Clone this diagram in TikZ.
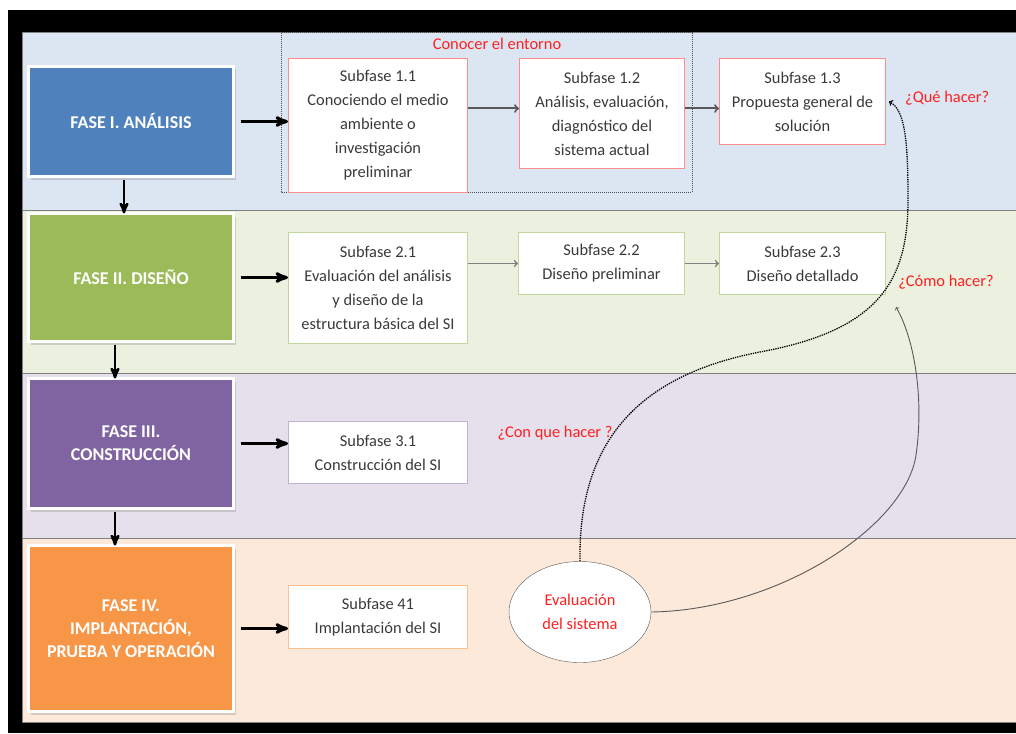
\documentclass[tikz,border=0pt]{standalone}
\usepackage{fontspec}
\setmainfont{Carlito}
\usepackage{tikz}
\usetikzlibrary{arrows}
\usetikzlibrary{positioning}
\usetikzlibrary{shapes.geometric}
\usetikzlibrary{shadows}
\definecolor{bandblue}{HTML}{DCE6F2}
\definecolor{bandgreen}{HTML}{EBF1DE}
\definecolor{bandpurple}{HTML}{E5E0EC}
\definecolor{bandorange}{HTML}{FDE9D9}
\definecolor{faseblue}{HTML}{4F81BD}
\definecolor{fasegreen}{HTML}{9BBB59}
\definecolor{fasepurple}{HTML}{8064A2}
\definecolor{faseorange}{HTML}{F79646}
\definecolor{txtgray}{HTML}{3A3A3A}
\definecolor{qred}{HTML}{FF2020}
\tikzset{> = stealth', node distance = 37pt,
  fase/.style = {rectangle, draw = white, line width = 3.5pt, outer sep = 0pt,
    minimum width = 205pt, text = white, align = center,
    font = \fontsize{18}{23}\selectfont\bfseries,
    drop shadow = {shadow xshift = 2pt, shadow yshift = -3pt, opacity = 0.3}},
  subfase/.style = {rectangle, draw, line width = 1pt, fill = white, text = txtgray,
    align = center, font = \fontsize{16.4}{24}\selectfont, inner sep = 2pt},
  pregunta/.style = {text = qred, inner sep = 0pt, font = \fontsize{16.4}{20}\selectfont},
  band/.style = {draw = black!50, line width = 1pt},
  paso/.style = {->, line width = 3pt, black},
  flujo/.style = {-to, line width = 2pt}
}

\begin{document}
\begin{tikzpicture}[x = 1pt, y = -1pt]
    \useasboundingbox (0,0) rectangle (1016,733);
    % frame and bands
    \fill [black] (8,10) rectangle (1016,733);
    \draw [band, fill = bandblue] (22,33) rectangle (1022,210);
    \draw [band, fill = bandgreen] (22,210) rectangle (1022,373);
    \draw [band, fill = bandpurple] (22,373) rectangle (1022,538);
    \draw [band, fill = bandorange] (22,538) rectangle (1022,722);
    \draw [densely dotted, line width = 1pt, black!70] (281,33) rectangle (692,192);

    % phases
    \node [fase, fill = faseblue, minimum height = 110pt] (fI) at (131,121.5) {FASE I. ANÁLISIS};
    \node [fase, fill = fasegreen, minimum height = 128pt, below = of fI] (fII) {FASE II. DISEÑO};
    \node [fase, fill = fasepurple, minimum height = 130pt, below = of fII] (fIII) {FASE III.\\CONSTRUCCIÓN};
    \node [fase, fill = faseorange, minimum height = 166pt, below = of fIII] (fIV) {FASE IV.\\IMPLANTACIÓN,\\PRUEBA Y OPERACIÓN};

    % subphases
    \node [subfase, draw = red!45, minimum width = 179pt, minimum height = 134pt, anchor = north west] (s11) at (288,58)
      {Subfase 1.1\\Conociendo el medio\\ambiente o\\investigación\\preliminar};
    \node [subfase, draw = red!45, minimum width = 165pt, minimum height = 110pt, right = 51pt of s11.north east, anchor = north west] (s12)
      {Subfase 1.2\\Análisis, evaluación,\\diagnóstico del\\sistema actual};
    \node [subfase, draw = red!45, minimum width = 166pt, minimum height = 86pt, right = 34pt of s12.north east, anchor = north west] (s13)
      {Subfase 1.3\\Propuesta general de\\solución};
    \node [subfase, draw = fasegreen!60, minimum width = 179pt, minimum height = 111pt, anchor = north west] (s21) at (288,232)
      {Subfase 2.1\\Evaluación del análisis\\y diseño de la\\estructura básica del SI};
    \node [subfase, draw = fasegreen!60, minimum width = 166pt, minimum height = 62pt, right = 50pt of s21.north east, anchor = north west] (s22)
      {Subfase 2.2\\Diseño preliminar};
    \node [subfase, draw = fasegreen!60, minimum width = 166pt, minimum height = 62pt, right = 34pt of s22.north east, anchor = north west] (s23)
      {Subfase 2.3\\Diseño detallado};
    \node [subfase, draw = fasepurple!50, minimum width = 179pt, minimum height = 62pt, anchor = north west] (s31) at (288,421)
      {Subfase 3.1\\Construcción del SI};
    \node [subfase, draw = faseorange!60, minimum width = 179pt, minimum height = 63pt, anchor = north west] (s41) at (288,585)
      {Subfase 41\\Implantación del SI};
    \node [ellipse, draw = gray!70!black, fill = white, minimum width = 142pt, minimum height = 101pt,
      text = qred, align = center, font = \fontsize{16.4}{24}\selectfont] (ev) at (580,612) {Evaluación\\del sistema};

    % labels
    \node [pregunta] (entorno) at (497,44) {Conocer el entorno};
    \node [pregunta, anchor = west] (que) at (905,98) {¿Qué hacer?};
    \node [pregunta] (como) at (946,282) {¿Cómo hacer?};
    \node [pregunta] (con) at (555,433) {¿Con que hacer ?};
    \coordinate (c23) at ([xshift = 10pt, yshift = -12pt]s23.south east);

    % paths
    \draw [paso, shorten <= 7pt] (fI.east) -- (fI.east -| s11.west);
    \draw [paso, shorten <= 7pt] (fII.east) -- (fII.east -| s21.west);
    \draw [paso, shorten <= 7pt] (fIII.east) -- (fIII.east -| s31.west);
    \draw [paso, shorten <= 7pt] (fIV.east) -- (fIV.east -| s41.west);
    \draw [paso, line width = 2.5pt, shorten <= 3pt] ([xshift = -7pt]fI.south) -- ([xshift = -7pt]fII.north);
    \draw [paso, line width = 2.5pt, shorten <= 3pt] ([xshift = -16pt]fII.south) -- ([xshift = -16pt]fIII.north);
    \draw [paso, line width = 2.5pt, shorten <= 3pt] ([xshift = -16pt]fIII.south) -- ([xshift = -16pt]fIV.north);
    \draw [flujo, black!65, transform canvas = {yshift = 5pt}] (s11.east |- s12.west) -- (s12.west);
    \draw [flujo, black!65, transform canvas = {yshift = 5pt}] (s12.east) -- (s12.east -| s13.west);
    \draw [flujo, line width = 1.6pt, gray] (s21.east |- s22.west) -- (s22.west);
    \draw [flujo, line width = 1.6pt, gray] (s22.east) -- (s23.west);
    \draw [densely dotted, line width = 1.3pt, -to] (ev.north) .. controls (578,440) and (640,375) .. (760,352)
      .. controls (880,330) and (908,280) .. (908,200) .. controls (908,140) and (905,110) .. ([xshift = 3pt]s13.east);
    \draw [gray!70!black, line width = 0.9pt, -to] (ev.east) .. controls (780,610) and (906,525) .. (916,455)
      .. controls (924,400) and (915,340) .. (c23);
\end{tikzpicture}
\end{document}
